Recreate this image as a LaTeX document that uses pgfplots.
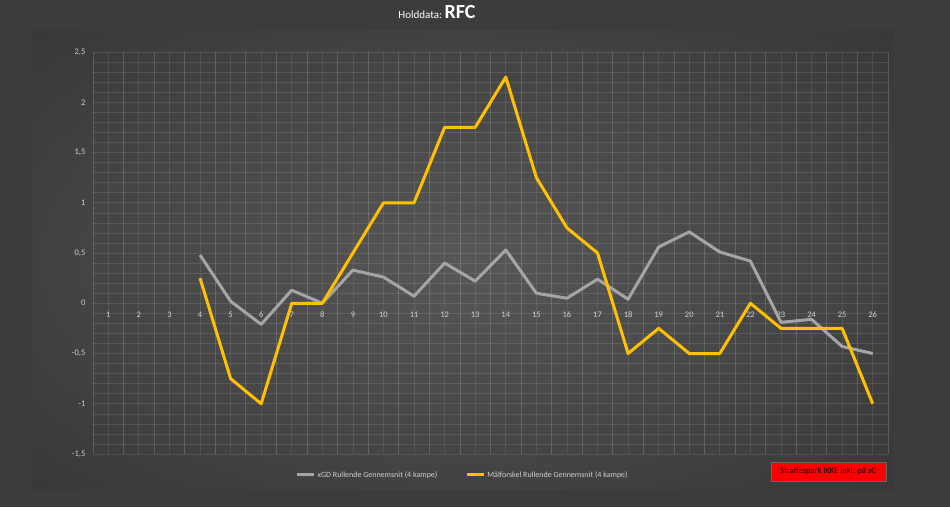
\documentclass[border=0pt]{standalone}
\usepackage{pgfplots}
\pgfplotsset{compat=1.18}
\usepackage{fontspec}
\setmainfont{Carlito}
\definecolor{outerbg}{HTML}{3C3C3C}
\definecolor{innerc}{HTML}{575757}
\definecolor{outerc}{HTML}{2B2B2B}
\definecolor{ygold}{HTML}{FFC000}
\definecolor{xgray}{HTML}{A5A5A5}
\definecolor{ticktxt}{HTML}{D0D0D0}
\pgfdeclareradialshading{chartbg}{\pgfpoint{0bp}{0bp}}{color(0bp)=(innerc); color(50bp)=(outerc); color(72bp)=(outerc)}
\pgfplotstableread{
x xgd maal
4 0.48 0.25
5 0.02 -0.75
6 -0.21 -1
7 0.13 0
8 0.00 0
9 0.33 0.5
10 0.26 1
11 0.07 1
12 0.40 1.75
13 0.22 1.75
14 0.53 2.25
15 0.10 1.25
16 0.05 0.75
17 0.24 0.5
18 0.04 -0.5
19 0.56 -0.25
20 0.71 -0.5
21 0.51 -0.5
22 0.42 0
23 -0.19 -0.25
24 -0.16 -0.25
25 -0.43 -0.25
26 -0.50 -1
}\datatab
\begin{document}
\begin{tikzpicture}[x=1pt,y=1pt]
\fill[outerbg] (0,0) rectangle (950,507);
\shade[shading=chartbg] (32,18) rectangle (893,476);
\node[text=white, anchor=base] at (437,488) {\fontsize{11}{13}\selectfont Holddata:\ \fontsize{20}{22}\selectfont\bfseries RFC};
\begin{axis}[
  at={(93pt,53pt)}, anchor=south west,
  scale only axis, width=795pt, height=402pt,
  xmin=0.5, xmax=26.5, ymin=-1.5, ymax=2.5,
  axis x line=middle, axis y line=left,
  axis line style={draw=none},
  tick style={draw=none},
  /pgf/number format/assume math mode=true,
  xtick={1,...,26},
  ytick={-1.5,-1,...,2.5},
  yticklabels={{-1,5},{-1},{-0,5},0,{0,5},1,{1,5},2,{2,5}},
  minor y tick num=4,
  extra x ticks={0.5,1.5,...,26.5},
  extra x tick labels={},
  extra x tick style={grid=major, major grid style={white, opacity=0.16, line width=0.8pt}},
  grid=both,
  major grid style={white, opacity=0.09, line width=0.8pt},
  minor grid style={white, opacity=0.07, line width=0.6pt},
  ymajorgrids, yminorgrids,
  y grid style={white, opacity=0.1},
  xticklabel style={text=ticktxt, font=\fontsize{8.5}{10}\selectfont, yshift=-3pt},
  yticklabel style={text=ticktxt, font=\fontsize{8.5}{10}\selectfont, xshift=-2pt},
  legend style={draw=none, fill=none, text=ticktxt, font=\fontsize{8}{10}\selectfont,
    at={(0.465,-0.052)}, anchor=center, legend columns=2,
    /tikz/every even column/.append style={column sep=26pt}},
  legend image code/.code={\draw[#1, line width=3pt] (0pt,0pt) -- (17pt,0pt);},
  clip=false,
]
\addplot[xgray, line width=3pt, line join=round] table[x=x, y=xgd] {\datatab};
\addlegendentry{xGD Rullende Gennemsnit (4 kampe)}
\addplot[ygold, line width=3pt, line join=round] table[x=x, y=maal] {\datatab};
\addlegendentry{Målforskel Rullende Gennemsnit (4 kampe)}
\end{axis}
\node[fill=red, draw=black!60, minimum width=115pt, minimum height=19pt, inner sep=0pt, text=black] at (828.5,35.5) {\fontsize{8.5}{10}\selectfont Straffespark IKKE inkl. på xG};
\path[use as bounding box] (0,0) rectangle (950,507);
\end{tikzpicture}
\end{document}
